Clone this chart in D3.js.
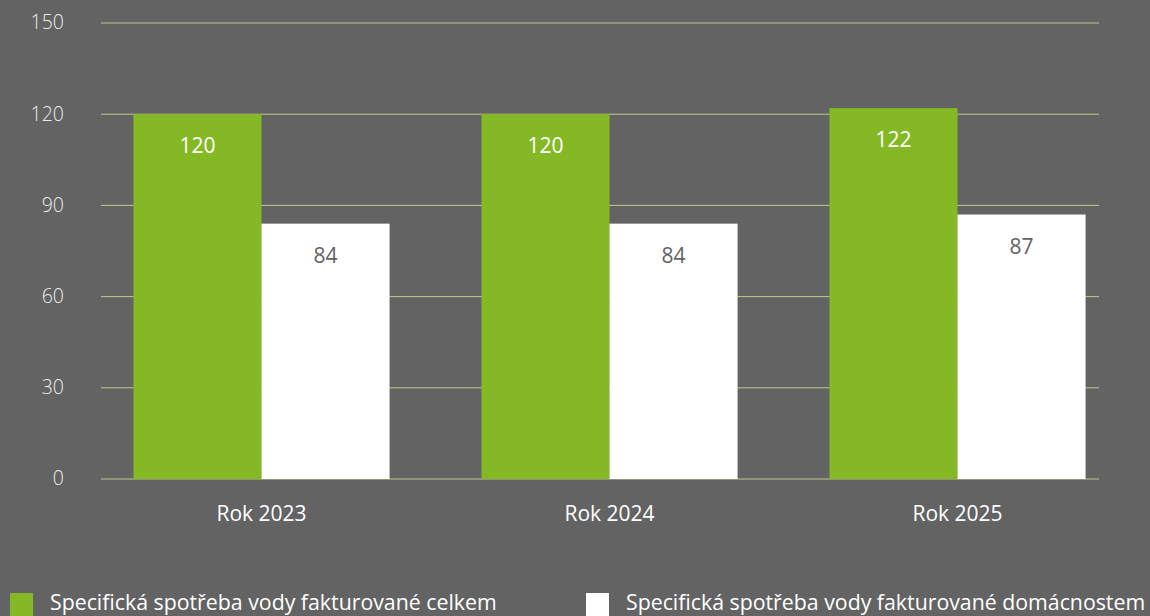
<!DOCTYPE html>
<html><head><meta charset="utf-8">
<script src="https://cdn.jsdelivr.net/npm/d3@7"></script>
<style>
html,body{margin:0;padding:0;background:#636363;}
svg{display:block;}
text{font-family:"Open Sans","Noto Sans",sans-serif;}
</style></head>
<body>
<svg id="chart" width="1150" height="616"></svg>
<script>
const categories = ["Rok 2023", "Rok 2024", "Rok 2025"];
const seriesNames = ["Specifická spotřeba vody fakturované celkem", "Specifická spotřeba vody fakturované domácnostem"];
const celkem = [120, 120, 122];
const domacnosti = [84, 84, 87];
const yTicks = [0, 30, 60, 90, 120, 150];
const colors = ["#84b925", "#ffffff"];

const svg = d3.select("#chart");
const plotLeft = 101, plotRight = 1099, plotTop = 23, plotBottom = 479;

const y = d3.scaleLinear().domain([0, 150]).range([plotBottom, plotTop]);
const x = d3.scaleBand().domain(categories).range([87.5, 1131.5]).paddingInner(0).paddingOuter(0);
const groupW = x.bandwidth() * 0.736;
const x1 = d3.scaleBand().domain([0, 1]).range([(x.bandwidth() - groupW) / 2, (x.bandwidth() + groupW) / 2]);

// gridlines
svg.append("g").selectAll("line").data(yTicks).join("line")
  .attr("x1", plotLeft).attr("x2", plotRight)
  .attr("y1", d => y(d)).attr("y2", d => y(d))
  .attr("stroke", "#bccb8e").attr("stroke-width", 1);

// y axis labels
const yAxis = d3.axisLeft(y).tickValues(yTicks).tickSize(0).tickPadding(0);
const ya = svg.append("g").attr("transform", "translate(64,0)").call(yAxis);
ya.select(".domain").remove();
ya.selectAll("text").attr("fill", "#ebebeb").style("font-size", "19.5px")
  .style("font-weight", "300").attr("font-family", "Open Sans").attr("dy", "0.3em");

// x axis labels
const xAxis = d3.axisBottom(x).tickSize(0).tickPadding(0);
const xa = svg.append("g").attr("transform", "translate(0,506)").call(xAxis);
xa.select(".domain").remove();
xa.selectAll("text").attr("fill", "#ffffff").style("font-size", "21px").attr("font-family", "Open Sans");

const rows = categories.map((c, i) => ({cat: c, vals: [celkem[i], domacnosti[i]]}));
const groups = svg.append("g").selectAll("g").data(rows).join("g")
  .attr("transform", d => `translate(${x(d.cat)},0)`);

groups.selectAll("rect").data(d => d.vals.map((v, k) => ({v, k}))).join("rect")
  .attr("x", d => x1(d.k)).attr("width", x1.bandwidth())
  .attr("y", d => y(d.v)).attr("height", d => y(0) - y(d.v))
  .attr("fill", d => colors[d.k]);

groups.selectAll("text.val").data(d => d.vals.map((v, k) => ({v, k}))).join("text")
  .attr("class", "val")
  .attr("x", d => x1(d.k) + x1.bandwidth() / 2)
  .attr("y", d => y(d.v) + 39)
  .attr("text-anchor", "middle")
  .attr("fill", d => d.k === 0 ? "#ffffff" : "#636363")
  .style("font-size", "21px")
  .text(d => d.v);

// legend
const legendX = [10, 586];
const leg = svg.append("g").selectAll("g").data(seriesNames).join("g")
  .attr("transform", (d, i) => `translate(${legendX[i]},0)`);
leg.append("rect").attr("x", 0).attr("y", 593).attr("width", 23).attr("height", 23)
  .attr("fill", (d, i) => colors[i]);
leg.append("text").attr("x", 40).attr("y", 610)
  .attr("fill", "#ffffff").style("font-size", "21.3px")
  .text(d => d);
</script>
</body></html>
